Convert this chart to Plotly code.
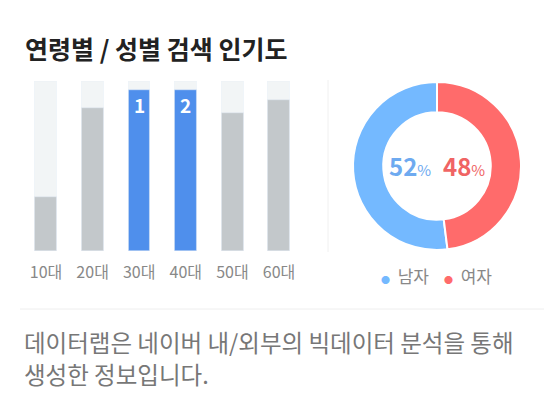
import plotly.graph_objects as go

W, H = 544, 396

# ---- data ----
age_groups = ["10대", "20대", "30대", "40대", "50대", "60대"]
age_values = [32, 84, 95, 95, 81, 89]
age_ranks = [None, None, 1, 2, None, None]
max_value = 100

gender_labels = ["남자", "여자"]
gender_values = [52, 48]

title_text = "연령별 / 성별 검색 인기도"
footer_lines = ["데이터랩은 네이버 내/외부의 빅데이터 분석을 통해", "생성한 정보입니다."]

FONT = "Noto Sans CJK KR, Malgun Gothic, sans-serif"
GRAY_BAR = "#c3c8cb"
BG_BAR = "#f2f5f6"
BLUE_BAR = "#4f8fec"
BLUE = "#74b9ff"
RED = "#ff6b6b"


def px(x):
    return x / W


def py(y):
    return 1 - y / H


bar_colors = [BLUE_BAR if r is not None else GRAY_BAR for r in age_ranks]

fig = go.Figure()
fig.add_trace(go.Bar(x=age_groups, y=[max_value] * len(age_groups), marker_color=BG_BAR,
                     width=0.47, hoverinfo="skip", showlegend=False))
fig.add_trace(go.Bar(x=age_groups, y=age_values, marker_color=bar_colors,
                     width=0.47, showlegend=False))

# first slice (남자) drawn counterclockwise from 12 o'clock
first_share = gender_values[0] / sum(gender_values)
fig.add_trace(go.Pie(labels=gender_labels, values=gender_values, hole=0.64,
                     sort=False, direction="clockwise", rotation=360 - first_share * 360,
                     marker=dict(colors=[BLUE, RED], line=dict(color="white", width=2)),
                     textinfo="none", showlegend=False,
                     domain=dict(x=[px(353), px(521)], y=[py(250), py(82)])))

annotations = []
for g, v, r in zip(age_groups, age_values, age_ranks):
    if r is not None:
        annotations.append(dict(x=g, y=v, xref="x", yref="y", text=f"<b>{r}</b>",
                                showarrow=False, yanchor="top", yshift=1,
                                font=dict(family=FONT, size=19, color="white")))

# title
annotations.append(dict(x=px(23), y=py(48), xref="paper", yref="paper", xanchor="left",
                        yanchor="middle", text=f"<b>{title_text}</b>", showarrow=False,
                        font=dict(family=FONT, size=25, color="#222222")))

# donut center labels
cx = 437
annotations.append(dict(x=px(cx - 4), y=py(165), xref="paper", yref="paper", xanchor="right",
                        yanchor="middle", showarrow=False,
                        text=f"<b>{gender_values[0]}</b><span style='font-size:15px'>%</span>",
                        font=dict(family=FONT, size=24, color="#6eaaf0")))
annotations.append(dict(x=px(cx + 4), y=py(165), xref="paper", yref="paper", xanchor="left",
                        yanchor="middle", showarrow=False,
                        text=f"<b>{gender_values[1]}</b><span style='font-size:15px'>%</span>",
                        font=dict(family=FONT, size=24, color="#f06464")))

# legend
annotations.append(dict(x=px(379), y=py(275), xref="paper", yref="paper", xanchor="left",
                        yanchor="middle", showarrow=False,
                        text=f"<span style='color:{BLUE};font-size:9px'>●</span>  {gender_labels[0]}",
                        font=dict(family=FONT, size=17, color="#888888")))
annotations.append(dict(x=px(442), y=py(275), xref="paper", yref="paper", xanchor="left",
                        yanchor="middle", showarrow=False,
                        text=f"<span style='color:{RED};font-size:9px'>●</span>  {gender_labels[1]}",
                        font=dict(family=FONT, size=17, color="#888888")))

# footer (two lines)
for line, yc in zip(footer_lines, [342, 374]):
    annotations.append(dict(x=px(22), y=py(yc), xref="paper", yref="paper", xanchor="left",
                            yanchor="middle", showarrow=False, align="left", text=line,
                            font=dict(family=FONT, size=23.5, color="#777777")))

shapes = [
    dict(type="line", xref="paper", yref="paper", x0=px(328), x1=px(328), y0=py(80), y1=py(252),
         line=dict(color="#f0f0f0", width=1)),
    dict(type="line", xref="paper", yref="paper", x0=px(20), x1=1, y0=py(309), y1=py(309),
         line=dict(color="#eeeeee", width=1)),
]

fig.update_layout(
    width=W, height=H, margin=dict(l=0, r=0, t=0, b=0),
    paper_bgcolor="white", plot_bgcolor="white",
    barmode="overlay", bargap=0,
    font=dict(family=FONT),
    xaxis=dict(domain=[px(22.7), px(302.3)], showgrid=False, zeroline=False, showline=False,
               ticks="", ticklabelstandoff=10,
               tickfont=dict(family=FONT, size=16, color="#888888"), fixedrange=True),
    yaxis=dict(domain=[py(251), py(81)], range=[0, max_value], showgrid=False, zeroline=False,
               showline=False, showticklabels=False, fixedrange=True),
    annotations=annotations, shapes=shapes,
)

fig.write_html("out.html", config={"displayModeBar": False},
               post_script="document.body.style.margin='0';document.body.style.overflow='hidden';")
